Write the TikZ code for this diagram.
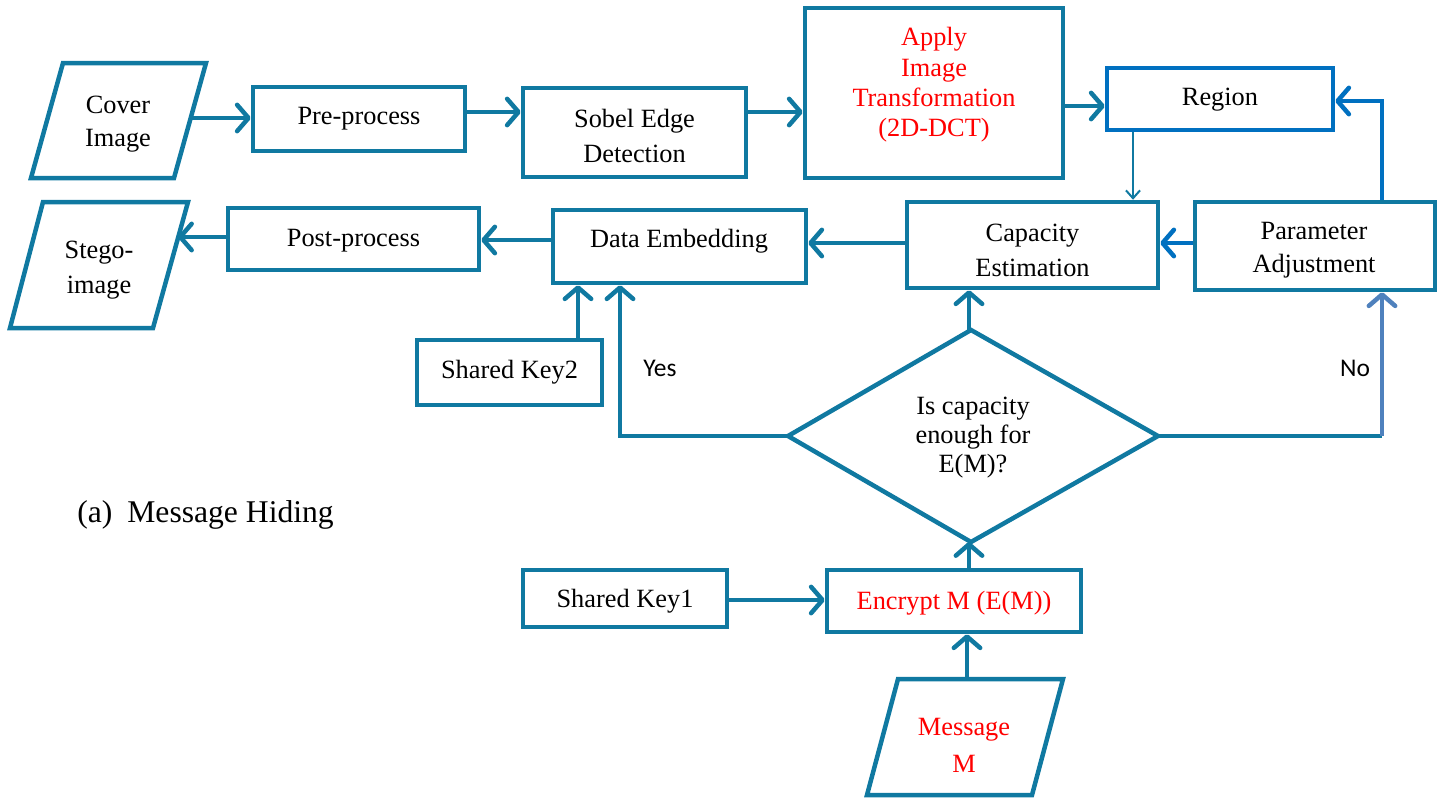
\documentclass[tikz,border=0pt]{standalone}
\usepackage{fontspec}
\setmainfont{Liberation Serif}
\newfontfamily\answerfont{Carlito}
\usetikzlibrary{arrows.meta}

\definecolor{flowteal}{RGB}{16,121,161}
\definecolor{flowblue}{RGB}{0,112,192}
\definecolor{flowsteel}{RGB}{79,129,189}
\definecolor{flowred}{RGB}{255,0,0}

\begin{document}
\begin{tikzpicture}[x=0.02cm,y=-0.02cm,
  box/.style={draw=flowteal, line width=0.09cm, inner sep=0pt},
  shapeline/.style={draw=flowteal, line width=0.09cm, line join=miter},
  txt/.style={align=center, inner sep=0pt, font=\fontsize{15}{19}\selectfont},
  flow/.style={draw=flowteal, line width=0.09cm,
    -{Straight Barb[length=6.5pt,width=15pt,line cap=round,line join=round]}},
  thinflow/.style={draw=flowteal, line width=0.04cm,
    -{Straight Barb[length=4.5pt,width=8pt]}},
  answer/.style={inner sep=0pt, font=\answerfont\fontsize{14.5}{17}\selectfont}]

\useasboundingbox (0,0) rectangle (1442,801);

% levels shared by several connectors
\coordinate (row-a) at (0,118);
\coordinate (row-b) at (0,112);
\coordinate (row-c) at (0,106);
\coordinate (row-d) at (0,101);
\coordinate (row-e) at (0,243);
\coordinate (row-f) at (0,240);
\coordinate (row-g) at (0,600);
\coordinate (col-a) at (1133,0);
\coordinate (col-b) at (1382,0);
\coordinate (col-c) at (578,0);
\coordinate (col-d) at (620,0);
\coordinate (col-e) at (969,0);

% input / output parallelograms
\draw[shapeline] (63,63) -- (206,63) -- (174,178) -- (31,178) -- cycle;
\coordinate (cover-out) at (190,118);
\node[txt, font=\fontsize{15}{18.5}\selectfont] (cover) at (118,124) {Cover\\Image};

\draw[shapeline] (43,202) -- (188,202) -- (153,328) -- (10,328) -- cycle;
\coordinate (stego-in) at (178,237);
\node[txt, font=\fontsize{15}{20}\selectfont] (stego) at (99,270) {Stego-\\image};

\draw[shapeline] (898,679) -- (1063,679) -- (1032,795) -- (867,795) -- cycle;
\coordinate (message-out) at (967,679);
\node[txt, text=flowred, font=\fontsize{15}{21}\selectfont] (message) at (964,745) {Message\\M};

% process boxes
\node[box, minimum width=4.24cm, minimum height=1.28cm] (pre) at (359,119) {};
\node[txt] (pre-text) at (359,119) {Pre-process};
\node[box, minimum width=4.46cm, minimum height=1.78cm] (sobel) at (634.5,132.5) {};
\node[txt, font=\fontsize{15}{20}\selectfont] (sobel-text) at (634.5,136) {Sobel Edge\\Detection};
\node[box, minimum width=5.16cm, minimum height=3.40cm] (apply) at (934,93) {};
\node[txt, text=flowred, font=\fontsize{15}{17.3}\selectfont] (apply-text) at (934,85)
  {Apply\\Image\\Transformation\\(2D-DCT)};
\node[box, draw=flowblue, minimum width=4.52cm, minimum height=1.24cm] (region) at (1220,99) {};
\node[txt] (region-text) at (1220,100) {Region};
\node[box, minimum width=5.02cm, minimum height=1.72cm] (capacity) at (1032.5,245) {};
\node[txt, font=\fontsize{15}{20}\selectfont] (capacity-text) at (1032.5,250) {Capacity\\Estimation};
\node[box, minimum width=4.80cm, minimum height=1.76cm] (param) at (1315,246) {};
\node[txt, font=\fontsize{15}{19}\selectfont] (param-text) at (1314,250) {Parameter\\Adjustment};
\node[box, minimum width=5.06cm, minimum height=1.46cm] (dembed) at (679.5,246.5) {};
\node[txt] (dembed-text) at (679,241) {Data Embedding};
\node[box, minimum width=5.02cm, minimum height=1.24cm] (post) at (353.5,239) {};
\node[txt] (post-text) at (353.5,241) {Post-process};
\node[box, minimum width=3.70cm, minimum height=1.30cm] (key2) at (509.5,372.5) {};
\node[txt] (key2-text) at (509.5,372) {Shared Key2};
\node[box, minimum width=4.08cm, minimum height=1.14cm] (key1) at (625,598.5) {};
\node[txt] (key1-text) at (625,601) {Shared Key1};
\node[box, minimum width=5.08cm, minimum height=1.24cm] (encrypt) at (954,601) {};
\node[txt, text=flowred] (encrypt-text) at (954,603) {Encrypt M (E(M))};

% decision
\coordinate (d-left) at (788,436);
\coordinate (d-top) at (971,330);
\coordinate (d-right) at (1158,436);
\coordinate (d-bottom) at (971,542);
\draw[shapeline] (d-left) -- (d-top) -- (d-right) -- (d-bottom) -- cycle;
\node[txt, font=\fontsize{15}{16.5}\selectfont] (decision) at (973,438) {Is capacity\\enough for\\E(M)?};

% connectors
\draw[flow] (cover-out) -- (pre.west |- row-a);
\draw[flow] (pre.east |- row-b) -- (sobel.west |- row-b);
\draw[flow] (sobel.east |- row-b) -- (apply.west |- row-b);
\draw[flow] (apply.east |- row-c) -- (region.west |- row-c);
\draw[thinflow] (region.south -| col-a) -- (capacity.north -| col-a);
\draw[flow, draw=flowblue] (param.north -| col-b) |- (region.east |- row-d);
\draw[flow, draw=flowblue] (param.west |- row-e) -- (capacity.east |- row-e);
\draw[flow] (capacity.west |- row-e) -- (dembed.east |- row-e);
\draw[flow] (dembed.west |- row-f) -- (post.east |- row-f);
\draw[flow] (post.west |- stego-in) -- (stego-in);
\draw[flow] (key2.north -| col-c) -- (dembed.south -| col-c);
\draw[flow] (d-left) -| (dembed.south -| col-d);
\draw[flow] (d-top -| col-e) -- (capacity.south -| col-e);
\coordinate (no-turn) at (d-right -| col-b);
\draw[shapeline] (d-right) -- (no-turn);
\draw[flow, draw=flowsteel] (no-turn) -- (param.south -| col-b);
\draw[flow] (encrypt.north -| col-e) -- (d-bottom -| col-e);
\draw[flow] (key1.east |- row-g) -- (encrypt.west |- row-g);
\draw[flow] (message-out) -- (encrypt.south -| message-out);

% branch labels
\node[answer] (yes) at (660,368) {Yes};
\node[answer] (no) at (1355,368) {No};

% caption
\node[anchor=west, inner sep=0pt, font=\fontsize{18}{21}\selectfont] (caption) at (77,515)
  {(a)\hspace{8.5pt}Message Hiding};
\end{tikzpicture}
\end{document}
